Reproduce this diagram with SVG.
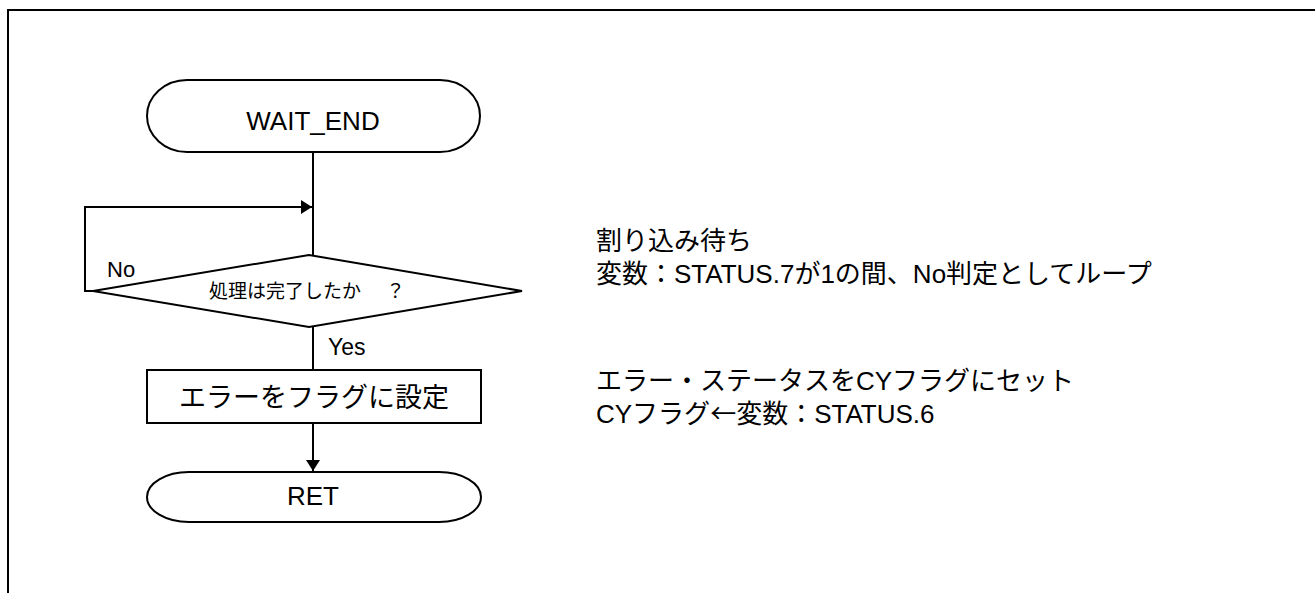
<svg xmlns="http://www.w3.org/2000/svg" width="1315" height="593" viewBox="0 0 1315 593">
  <style>
    .shape { fill: #ffffff; stroke: #000000; stroke-width: 2; }
    .line { fill: none; stroke: #000000; stroke-width: 2; }
    .t { font-family: "Liberation Sans", "Noto Sans CJK JP", sans-serif; fill: #000000; }
    .cjk { font-family: "Noto Sans CJK JP", sans-serif; }
  </style>
  <defs>
    <marker id="arrow" markerUnits="userSpaceOnUse" markerWidth="12" markerHeight="14" refX="11" refY="7" orient="auto">
      <path d="M0,0 L11,7 L0,14 Z" fill="#000000"/>
    </marker>
  </defs>
  <rect width="1315" height="593" fill="#ffffff"/>
  <path class="line" d="M8,593 V10 H1315"/>
  <g id="connectors">
    <path class="line" d="M313,152 V256"/>
    <path class="line" d="M93,291 H85 V207 H312" marker-end="url(#arrow)"/>
    <path class="line" d="M313,327 V370"/>
    <path class="line" d="M313,423 V471" marker-end="url(#arrow)"/>
  </g>
  <g id="wait_end">
    <rect class="shape" x="147" y="80" width="333" height="72" rx="40" ry="36"/>
    <text class="t" x="313" y="130" font-size="26" text-anchor="middle">WAIT_END</text>
  </g>
  <g id="decision">
    <polygon class="shape" points="93,291 309,255 522,291 309,327"/>
    <text class="t" x="209" y="298" font-size="19">処理は完了したか <tspan x="386">？</tspan></text>
  </g>
  <text class="t" x="107" y="277" font-size="22">No</text>
  <text class="t" x="328" y="355" font-size="23">Yes</text>
  <g id="set_error">
    <rect class="shape" x="147" y="370" width="334" height="53"/>
    <text class="t" x="314" y="407" font-size="27" text-anchor="middle">エラーをフラグに設定</text>
  </g>
  <g id="ret">
    <rect class="shape" x="147" y="472" width="334" height="50" rx="42" ry="25"/>
    <text class="t" x="313" y="505" font-size="26" text-anchor="middle">RET</text>
  </g>
  <g id="notes">
    <text class="t" x="596" y="250" font-size="26">割り込み待ち</text>
    <text class="t" x="596" y="283" font-size="26">変数：STATUS.7が1の間、No判定としてループ</text>
    <text class="t" x="596" y="390" font-size="26">エラー・ステータスをCYフラグにセット</text>
    <text class="t" x="596" y="423" font-size="26">CYフラグ<tspan class="cjk">←</tspan>変数：STATUS.6</text>
  </g>
</svg>
